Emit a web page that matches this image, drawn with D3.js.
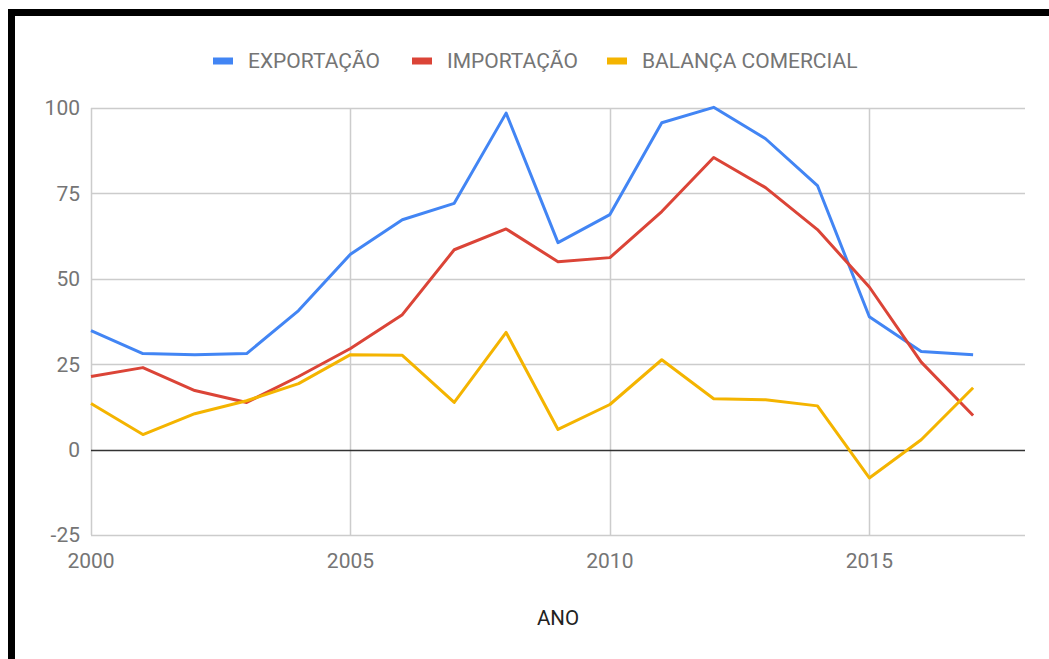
<!DOCTYPE html>
<html>
<head>
<meta charset="utf-8">
<script src="https://cdn.jsdelivr.net/npm/d3@7"></script>
<style>
  html, body { margin: 0; padding: 0; background: #fff; }
  svg { display: block; font-family: Roboto, "Noto Sans", sans-serif; }
</style>
</head>
<body>
<svg id="chart" width="1049" height="659"></svg>
<script>
const years = d3.range(2000, 2018);
const exportacao = [34.8, 28.1, 27.8, 28.1, 40.7, 57.2, 67.3, 72.1, 98.5, 60.6, 68.8, 95.7, 100.2, 91.0, 77.3, 38.9, 28.7, 27.8];
const importacao = [21.4, 24.0, 17.3, 13.8, 21.4, 29.6, 39.5, 58.5, 64.6, 55.0, 56.2, 69.7, 85.5, 76.7, 64.4, 47.6, 25.6, 10.0];
const balanca = [13.5, 4.4, 10.5, 14.3, 19.3, 27.8, 27.6, 13.8, 34.3, 5.9, 13.2, 26.3, 14.9, 14.6, 12.8, -8.3, 2.9, 18.1];
const yTicks = [-25, 0, 25, 50, 75, 100];
const xTicks = [2000, 2005, 2010, 2015];

const series = [
  { name: "EXPORTAÇÃO", values: exportacao, color: "#4285f4" },
  { name: "IMPORTAÇÃO", values: importacao, color: "#db4437" },
  { name: "BALANÇA COMERCIAL", values: balanca, color: "#f4b400" }
];

const svg = d3.select("#chart");
const margin = { top: 108, right: 24, bottom: 124, left: 91 };
const width = 1049, height = 659;
const innerW = width - margin.left - margin.right;
const innerH = height - margin.top - margin.bottom;

// frame borders (top and left)
svg.append("rect").attr("x", 8).attr("y", 9).attr("width", width - 8).attr("height", 7).attr("fill", "#000");
svg.append("rect").attr("x", 8).attr("y", 9).attr("width", 7).attr("height", height - 9).attr("fill", "#000");

const x = d3.scaleLinear().domain([2000, 2018]).range([0, innerW]);
const y = d3.scaleLinear().domain([-25, 100]).range([innerH, 0]);

const g = svg.append("g").attr("transform", `translate(${margin.left},${margin.top})`);

// grid lines
g.selectAll("line.hgrid")
  .data(yTicks.filter(d => d !== 0))
  .join("line")
    .attr("class", "hgrid")
    .attr("x1", 0).attr("x2", innerW)
    .attr("y1", d => Math.round(y(d)) + 0.5).attr("y2", d => Math.round(y(d)) + 0.5)
    .attr("stroke", "#cccccc").attr("stroke-width", 1.5);

g.selectAll("line.vgrid")
  .data(xTicks)
  .join("line")
    .attr("class", "vgrid")
    .attr("x1", d => Math.round(x(d)) + 0.5).attr("x2", d => Math.round(x(d)) + 0.5)
    .attr("y1", 0).attr("y2", innerH)
    .attr("stroke", "#cccccc").attr("stroke-width", 1.5);

// zero baseline
g.append("line")
  .attr("x1", 0).attr("x2", innerW)
  .attr("y1", Math.round(y(0)) + 0.5).attr("y2", Math.round(y(0)) + 0.5)
  .attr("stroke", "#333").attr("stroke-width", 1.5);

// y tick labels
g.selectAll("text.ylab")
  .data(yTicks)
  .join("text")
    .attr("class", "ylab")
    .attr("x", -11)
    .attr("y", d => y(d))
    .attr("dy", "0.35em")
    .attr("text-anchor", "end")
    .attr("fill", "#757575")
    .attr("font-size", "21px")
    .text(d => d);

// x tick labels
g.selectAll("text.xlab")
  .data(xTicks)
  .join("text")
    .attr("class", "xlab")
    .attr("x", d => x(d))
    .attr("y", innerH + 26)
    .attr("dy", "0.35em")
    .attr("text-anchor", "middle")
    .attr("fill", "#757575")
    .attr("font-size", "21px")
    .text(d => d);

// x axis title
svg.append("text")
  .attr("x", 558).attr("y", 618)
  .attr("dy", "0.35em")
  .attr("text-anchor", "middle")
  .attr("fill", "#222")
  .attr("font-size", "20.5px")
  .text("ANO");

// lines
const line = d3.line()
  .x((d, i) => x(years[i]))
  .y(d => y(d));

g.selectAll("path.series")
  .data(series)
  .join("path")
    .attr("class", "series")
    .attr("fill", "none")
    .attr("stroke", d => d.color)
    .attr("stroke-width", 3)
    .attr("stroke-linejoin", "round")
    .attr("d", d => line(d.values));

// legend
const legendX = [213, 412, 607];
const legend = svg.selectAll("g.legend")
  .data(series)
  .join("g")
    .attr("class", "legend")
    .attr("transform", (d, i) => `translate(${legendX[i]},61)`);
legend.append("rect")
  .attr("x", 0).attr("y", -3.5)
  .attr("width", 20).attr("height", 7)
  .attr("fill", d => d.color);
legend.append("text")
  .attr("x", 35).attr("y", 0)
  .attr("dy", "0.35em")
  .attr("fill", "#757575")
  .attr("font-size", "21px")
  .text(d => d.name);
</script>
</body>
</html>
